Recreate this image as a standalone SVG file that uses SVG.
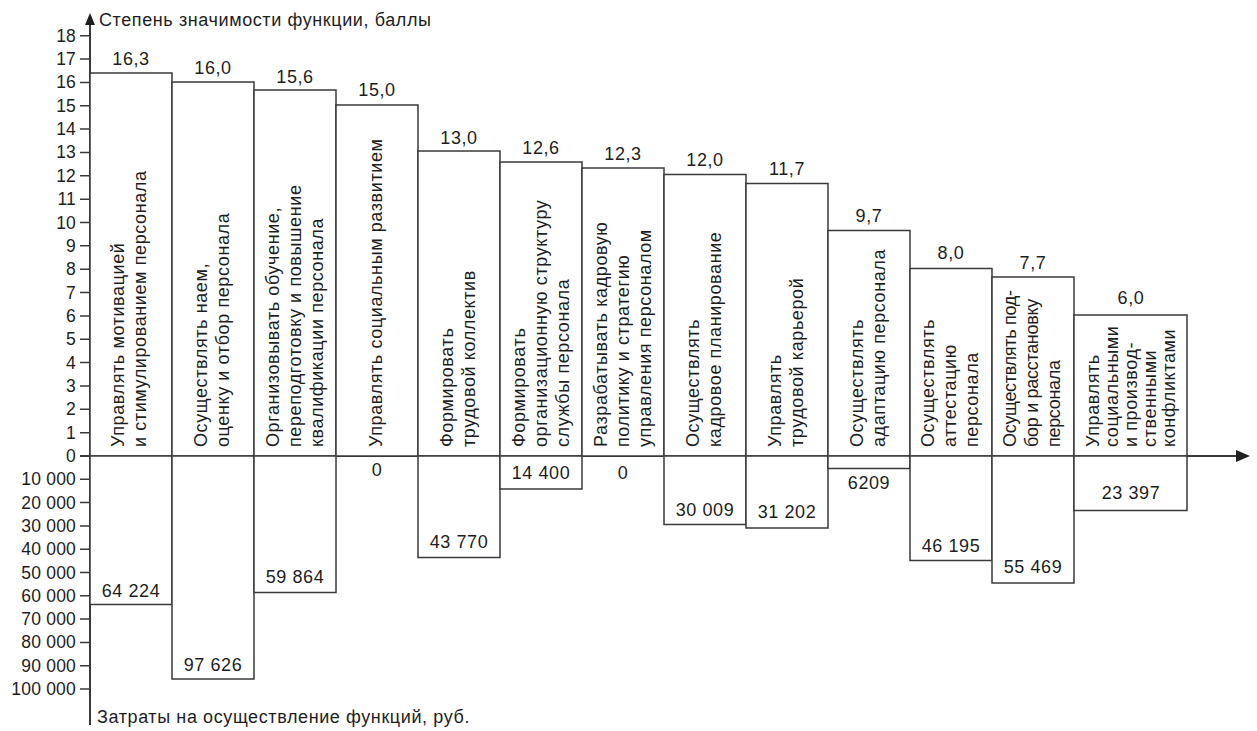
<svg xmlns="http://www.w3.org/2000/svg" width="1257" height="731" viewBox="0 0 1257 731">
<style>
text{font-family:"Liberation Sans",Arial,Helvetica,sans-serif;font-size:18px;fill:#1e1e1e;letter-spacing:0.6px}
.bar{fill:#fff;stroke:#3a3a3a;stroke-width:1.5}
.ax{stroke:#3a3a3a;stroke-width:2;fill:none}
.tk{stroke:#3a3a3a;stroke-width:1.5}
.yl{text-anchor:end;letter-spacing:0.2px;font-size:17.5px}
.v{text-anchor:middle}
</style>
<rect width="1257" height="731" fill="#fff"/>
<g id="axes">
<line class="ax" x1="90" y1="22" x2="90" y2="725"/>
<polygon points="90,13 85,25 95,25" fill="#1e1e1e"/>
<line class="ax" x1="80" y1="456" x2="1240" y2="456"/>
<polygon points="1250,456 1236,450 1236,462" fill="#1e1e1e"/>
<text x="99" y="26">Степень значимости функции, баллы</text>
<text x="97" y="723">Затраты на осуществление функций, руб.</text>
<g id="yticks">
<path class="tk" d="M80,432.65H90M80,409.3H90M80,385.95H90M80,362.6H90M80,339.25H90M80,315.9H90M80,292.55H90M80,269.2H90M80,245.85H90M80,222.5H90M80,199.15H90M80,175.8H90M80,152.45H90M80,129.1H90M80,105.75H90M80,82.4H90M80,59.05H90M80,35.7H90M80,479.3H90M80,502.6H90M80,525.9H90M80,549.2H90M80,572.5H90M80,595.8H90M80,619.1H90M80,642.4H90M80,665.7H90M80,689H90"/>
<text class="yl" x="76" y="462">0</text>
<text class="yl" x="76" y="438.65">1</text>
<text class="yl" x="76" y="415.3">2</text>
<text class="yl" x="76" y="391.95">3</text>
<text class="yl" x="76" y="368.6">4</text>
<text class="yl" x="76" y="345.25">5</text>
<text class="yl" x="76" y="321.9">6</text>
<text class="yl" x="76" y="298.55">7</text>
<text class="yl" x="76" y="275.2">8</text>
<text class="yl" x="76" y="251.85">9</text>
<text class="yl" x="76" y="228.5">10</text>
<text class="yl" x="76" y="205.15">11</text>
<text class="yl" x="76" y="181.8">12</text>
<text class="yl" x="76" y="158.45">13</text>
<text class="yl" x="76" y="135.1">14</text>
<text class="yl" x="76" y="111.75">15</text>
<text class="yl" x="76" y="88.4">16</text>
<text class="yl" x="76" y="65.05">17</text>
<text class="yl" x="76" y="41.7">18</text>
<text class="yl" x="76" y="485.3">10 000</text>
<text class="yl" x="76" y="508.6">20 000</text>
<text class="yl" x="76" y="531.9">30 000</text>
<text class="yl" x="76" y="555.2">40 000</text>
<text class="yl" x="76" y="578.5">50 000</text>
<text class="yl" x="76" y="601.8">60 000</text>
<text class="yl" x="76" y="625.1">70 000</text>
<text class="yl" x="76" y="648.4">80 000</text>
<text class="yl" x="76" y="671.7">90 000</text>
<text class="yl" x="76" y="695">100 000</text>
</g>
</g>
<g id="connectors"></g>
<g id="f1">
<rect class="bar" x="90" y="73" width="82" height="383"/>
<rect class="bar" x="90" y="456" width="82" height="148.5"/>
<text class="v" x="131" y="65">16,3</text>
<text class="v" x="131" y="597">64 224</text>
<text transform="translate(124,447) rotate(-90)"><tspan x="0" y="0">Управлять мотивацией</tspan><tspan x="0" y="22">и стимулированием персонала</tspan></text>
</g>
<g id="f2">
<rect class="bar" x="172" y="82" width="82" height="374"/>
<rect class="bar" x="172" y="456" width="82" height="223"/>
<text class="v" x="213" y="74">16,0</text>
<text class="v" x="213" y="671">97 626</text>
<text transform="translate(207,447) rotate(-90)"><tspan x="0" y="0">Осуществлять наем,</tspan><tspan x="0" y="22">оценку и отбор персонала</tspan></text>
</g>
<g id="f3">
<rect class="bar" x="254" y="90" width="82" height="366"/>
<rect class="bar" x="254" y="456" width="82" height="136.5"/>
<text class="v" x="295" y="83">15,6</text>
<text class="v" x="295" y="583">59 864</text>
<text transform="translate(279,447) rotate(-90)"><tspan x="0" y="0">Организовывать обучение,</tspan><tspan x="0" y="22">переподготовку и повышение</tspan><tspan x="0" y="44">квалификации персонала</tspan></text>
</g>
<g id="f4">
<rect class="bar" x="336" y="105" width="82" height="351"/>
<text class="v" x="377" y="96">15,0</text>
<text class="v" x="377" y="476">0</text>
<text transform="translate(382,447) rotate(-90)"><tspan x="0" y="0">Управлять социальным развитием</tspan></text>
</g>
<g id="f5">
<rect class="bar" x="418" y="151" width="82" height="305"/>
<rect class="bar" x="418" y="456" width="82" height="101.5"/>
<text class="v" x="459" y="144">13,0</text>
<text class="v" x="459" y="548">43 770</text>
<text transform="translate(453,447) rotate(-90)"><tspan x="0" y="0">Формировать</tspan><tspan x="0" y="22">трудовой коллектив</tspan></text>
</g>
<g id="f6">
<rect class="bar" x="500" y="162" width="82" height="294"/>
<rect class="bar" x="500" y="456" width="82" height="33"/>
<text class="v" x="541" y="154">12,6</text>
<text class="v" x="541" y="479">14 400</text>
<text transform="translate(525,447) rotate(-90)"><tspan x="0" y="0">Формировать</tspan><tspan x="0" y="22">организационную структуру</tspan><tspan x="0" y="44">службы персонала</tspan></text>
</g>
<g id="f7">
<rect class="bar" x="582" y="168" width="82" height="288"/>
<text class="v" x="623" y="160">12,3</text>
<text class="v" x="623" y="479">0</text>
<text transform="translate(607,447) rotate(-90)"><tspan x="0" y="0">Разрабатывать кадровую</tspan><tspan x="0" y="22">политику и стратегию</tspan><tspan x="0" y="44">управления персоналом</tspan></text>
</g>
<g id="f8">
<rect class="bar" x="664" y="174.5" width="82" height="281.5"/>
<rect class="bar" x="664" y="456" width="82" height="68.5"/>
<text class="v" x="705" y="166">12,0</text>
<text class="v" x="705" y="516">30 009</text>
<text transform="translate(699,447) rotate(-90)"><tspan x="0" y="0">Осуществлять</tspan><tspan x="0" y="22">кадровое планирование</tspan></text>
</g>
<g id="f9">
<rect class="bar" x="746" y="183.5" width="82" height="272.5"/>
<rect class="bar" x="746" y="456" width="82" height="72"/>
<text class="v" x="787" y="175">11,7</text>
<text class="v" x="787" y="518">31 202</text>
<text transform="translate(781,447) rotate(-90)"><tspan x="0" y="0">Управлять</tspan><tspan x="0" y="22">трудовой карьерой</tspan></text>
</g>
<g id="f10">
<rect class="bar" x="828" y="230.5" width="82" height="225.5"/>
<rect class="bar" x="828" y="456" width="82" height="12.5"/>
<text class="v" x="869" y="222">9,7</text>
<text class="v" x="869" y="489">6209</text>
<text transform="translate(863,447) rotate(-90)"><tspan x="0" y="0">Осуществлять</tspan><tspan x="0" y="22">адаптацию персонала</tspan></text>
</g>
<g id="f11">
<rect class="bar" x="910" y="268.5" width="82" height="187.5"/>
<rect class="bar" x="910" y="456" width="82" height="104.5"/>
<text class="v" x="951" y="259">8,0</text>
<text class="v" x="951" y="552">46 195</text>
<text transform="translate(934,447) rotate(-90)"><tspan x="0" y="0">Осуществлять</tspan><tspan x="0" y="22">аттестацию</tspan><tspan x="0" y="44">персонала</tspan></text>
</g>
<g id="f12">
<rect class="bar" x="992" y="277" width="82" height="179"/>
<rect class="bar" x="992" y="456" width="82" height="127"/>
<text class="v" x="1033" y="269">7,7</text>
<text class="v" x="1033" y="573">55 469</text>
<text transform="translate(1016,447) rotate(-90)" style="letter-spacing:-0.3px"><tspan x="0" y="0">Осуществлять под-</tspan><tspan x="0" y="22">бор и расстановку</tspan><tspan x="0" y="44">персонала</tspan></text>
</g>
<g id="f13">
<rect class="bar" x="1074" y="315" width="113" height="141"/>
<rect class="bar" x="1074" y="456" width="113" height="54.5"/>
<text class="v" x="1131" y="304">6,0</text>
<text class="v" x="1131" y="499">23 397</text>
<text transform="translate(1099,447) rotate(-90)"><tspan x="0" y="0">Управлять</tspan><tspan x="0" y="19">социальными</tspan><tspan x="0" y="38">и производ-</tspan><tspan x="0" y="57">ственными</tspan><tspan x="0" y="76">конфликтами</tspan></text>
</g>
</svg>
